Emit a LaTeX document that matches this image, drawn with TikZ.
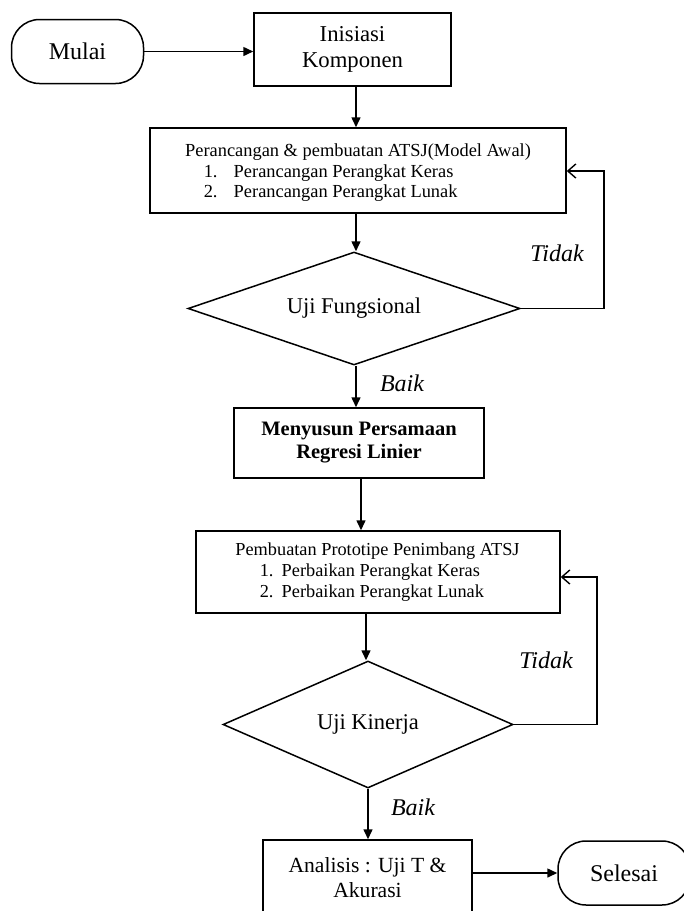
\documentclass[tikz,border=0pt]{standalone}
\usepackage{fontspec}
\setmainfont{Liberation Serif}
\usetikzlibrary{shapes.geometric,arrows.meta}
\begin{document}
\begin{tikzpicture}[x=1pt,y=-1pt,
  line width=1.5pt,
  box/.style={draw,rectangle,inner sep=0pt,align=center},
  term/.style={draw,rectangle,rounded corners=28pt,inner sep=0pt,minimum width=132pt,minimum height=64pt,font=\fontsize{24}{28}\selectfont},
  dec/.style={draw,diamond,inner sep=0pt,font=\fontsize{22.5}{26}\selectfont},
  arr/.style={-{Triangle[length=10pt,width=9pt]}},
  fb/.style={-{Straight Barb[length=8pt,width=14pt,line width=1.4pt]}},
  lbl/.style={font=\fontsize{24}{28}\selectfont\itshape,inner sep=0pt},
  ltxt/.style={inner sep=0pt,anchor=base west},
  ctxt/.style={inner sep=0pt,anchor=base}]
\useasboundingbox (0,0) rectangle (684,911);

\node[term] (mulai) at (77.5,51.5) {Mulai};
\node[box,minimum width=197pt,minimum height=73pt,font=\fontsize{22.7}{26}\selectfont] (ini) at (352.5,49.5) {Inisiasi\\Komponen};

\node[box,minimum width=416pt,minimum height=85pt] (rancang) at (358,170.5) {};
\node[ctxt,font=\fontsize{18.4}{21}\selectfont] (r1) at (358,156) {Perancangan \& pembuatan ATSJ(Model Awal)};
\node[ltxt,font=\fontsize{18.4}{21}\selectfont] (r2) at (203,177.7) {\makebox[30pt][l]{1.}Perancangan Perangkat Keras};
\node[ltxt,font=\fontsize{18.4}{21}\selectfont] (r3) at (203,197.7) {\makebox[30pt][l]{2.}Perancangan Perangkat Lunak};

\node[dec,aspect=3,minimum width=332pt,minimum height=113pt] (uf) at (354,308.5) {Uji Fungsional};

\node[box,minimum width=250pt,minimum height=70pt,font=\fontsize{20.5}{23}\selectfont\bfseries] (reg) at (359,443) {Menyusun Persamaan\\Regresi Linier};

\node[box,minimum width=364pt,minimum height=82pt] (proto) at (378,572) {};
\node[ctxt,font=\fontsize{18.3}{21.5}\selectfont] (p1) at (377.5,555) {Pembuatan Prototipe Penimbang ATSJ};
\node[ltxt,font=\fontsize{18.3}{21.5}\selectfont] (p2) at (259,576.7) {\makebox[22pt][l]{1.}Perbaikan Perangkat Keras};
\node[ltxt,font=\fontsize{18.3}{21.5}\selectfont] (p3) at (259,597.7) {\makebox[22pt][l]{2.}Perbaikan Perangkat Lunak};

\node[dec,aspect=2.3,minimum width=290pt,minimum height=127pt] (uk) at (368,724.5) {Uji Kinerja};

\node[box,minimum width=209pt,minimum height=76pt,font=\fontsize{21.6}{25}\selectfont] (ana) at (367.5,878) {Analisis : Uji T \&\\Akurasi};
\node[term] (selesai) at (624,873) {Selesai};

\node[lbl] (t1) at (557,253) {Tidak};
\node[lbl] (b1) at (402,383) {Baik};
\node[lbl] (t2) at (546,660) {Tidak};
\node[lbl] (b2) at (413,807) {Baik};

\coordinate (c1) at (604,308.5);
\coordinate (c2) at (597,724.5);

\draw[arr] (mulai.east) -- (mulai.east -| ini.west);
\draw[arr] (ini.south -| 356,0) -- (rancang.north -| 356,0);
\draw[arr] (rancang.south -| 356,0) -- (uf.north -| 356,0);
\draw[fb] (uf.east) -- (c1) |- (rancang.east |- 0,171);
\draw[arr] (uf.south -| 356,0) -- (reg.north -| 356,0);
\draw[arr] (reg.south -| 361,0) -- (proto.north -| 361,0);
\draw[arr] (proto.south -| 366,0) -- (uk.north -| 366,0);
\draw[fb] (uk.east) -- (c2) |- (proto.east |- 0,577);
\draw[arr] (uk.south -| 368,0) -- (ana.north -| 368,0);
\draw[arr] (ana.east |- 0,873) -- (selesai.west);
\end{tikzpicture}
\end{document}
